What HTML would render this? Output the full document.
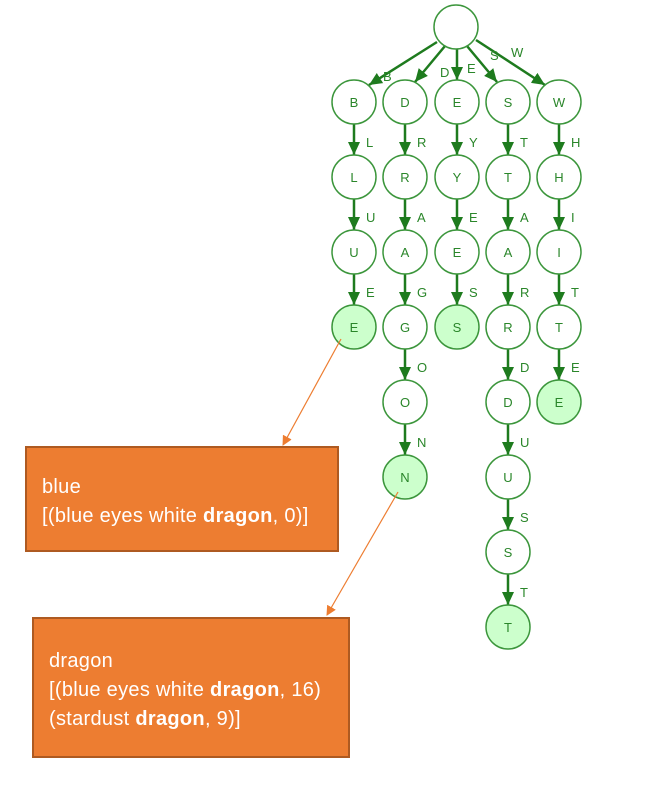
<!DOCTYPE html>
<html><head><style>
body{margin:0;background:#fff;width:658px;height:796px;overflow:hidden;position:relative;font-family:"Liberation Sans",sans-serif}
.box{position:absolute;background:#ED7D31;border:2px solid #AE5A21;color:#fff;font-size:20px;line-height:29px;box-sizing:border-box;white-space:nowrap;letter-spacing:0.3px}
svg{position:absolute;left:0;top:0}
</style></head><body>
<svg width="658" height="796" viewBox="0 0 658 796">
<defs>
<marker id="o" markerWidth="10" markerHeight="10" refX="9" refY="5" orient="auto" markerUnits="userSpaceOnUse"><path d="M0,0 L10,5 L0,10z" fill="#ED7D31"/></marker>
<marker id="g" markerWidth="14" markerHeight="14" refX="13" refY="7" orient="auto" markerUnits="userSpaceOnUse"><path d="M0,1 L13,7 L0,13z" fill="#1E7B1E"/></marker></defs>
<g stroke="#1E7B1E" stroke-width="2.5" marker-end="url(#g)" fill="none">
<line x1="437" y1="42" x2="369" y2="85"/>
<line x1="445" y1="46" x2="415" y2="82"/>
<line x1="457" y1="49" x2="457" y2="80"/>
<line x1="467" y1="46" x2="497" y2="82"/>
<line x1="476" y1="40" x2="545" y2="85"/>
<line x1="354" y1="124" x2="354" y2="155"/><line x1="354" y1="199" x2="354" y2="230"/><line x1="354" y1="274" x2="354" y2="305"/>
<line x1="405" y1="124" x2="405" y2="155"/><line x1="405" y1="199" x2="405" y2="230"/><line x1="405" y1="274" x2="405" y2="305"/><line x1="405" y1="349" x2="405" y2="380"/><line x1="405" y1="424" x2="405" y2="455"/>
<line x1="457" y1="124" x2="457" y2="155"/><line x1="457" y1="199" x2="457" y2="230"/><line x1="457" y1="274" x2="457" y2="305"/>
<line x1="508" y1="124" x2="508" y2="155"/><line x1="508" y1="199" x2="508" y2="230"/><line x1="508" y1="274" x2="508" y2="305"/><line x1="508" y1="349" x2="508" y2="380"/><line x1="508" y1="424" x2="508" y2="455"/><line x1="508" y1="499" x2="508" y2="530"/><line x1="508" y1="574" x2="508" y2="605"/>
<line x1="559" y1="124" x2="559" y2="155"/><line x1="559" y1="199" x2="559" y2="230"/><line x1="559" y1="274" x2="559" y2="305"/><line x1="559" y1="349" x2="559" y2="380"/>
</g>
<g stroke="#3C963C" stroke-width="1.5" fill="#fff">
<circle cx="456" cy="27" r="22"/>
<circle cx="354" cy="102" r="22"/><circle cx="354" cy="177" r="22"/><circle cx="354" cy="252" r="22"/><circle cx="354" cy="327" r="22" fill="#CCFFCC"/>
<circle cx="405" cy="102" r="22"/><circle cx="405" cy="177" r="22"/><circle cx="405" cy="252" r="22"/><circle cx="405" cy="327" r="22"/><circle cx="405" cy="402" r="22"/><circle cx="405" cy="477" r="22" fill="#CCFFCC"/>
<circle cx="457" cy="102" r="22"/><circle cx="457" cy="177" r="22"/><circle cx="457" cy="252" r="22"/><circle cx="457" cy="327" r="22" fill="#CCFFCC"/>
<circle cx="508" cy="102" r="22"/><circle cx="508" cy="177" r="22"/><circle cx="508" cy="252" r="22"/><circle cx="508" cy="327" r="22"/><circle cx="508" cy="402" r="22"/><circle cx="508" cy="477" r="22"/><circle cx="508" cy="552" r="22"/><circle cx="508" cy="627" r="22" fill="#CCFFCC"/>
<circle cx="559" cy="102" r="22"/><circle cx="559" cy="177" r="22"/><circle cx="559" cy="252" r="22"/><circle cx="559" cy="327" r="22"/><circle cx="559" cy="402" r="22" fill="#CCFFCC"/>
</g>
<g fill="#2A862A" font-family="Liberation Sans,sans-serif" font-size="13" text-anchor="middle">
<text x="354" y="107">B</text><text x="354" y="182">L</text><text x="354" y="257">U</text><text x="354" y="332">E</text>
<text x="405" y="107">D</text><text x="405" y="182">R</text><text x="405" y="257">A</text><text x="405" y="332">G</text><text x="405" y="407">O</text><text x="405" y="482">N</text>
<text x="457" y="107">E</text><text x="457" y="182">Y</text><text x="457" y="257">E</text><text x="457" y="332">S</text>
<text x="508" y="107">S</text><text x="508" y="182">T</text><text x="508" y="257">A</text><text x="508" y="332">R</text><text x="508" y="407">D</text><text x="508" y="482">U</text><text x="508" y="557">S</text><text x="508" y="632">T</text>
<text x="559" y="107">W</text><text x="559" y="182">H</text><text x="559" y="257">I</text><text x="559" y="332">T</text><text x="559" y="407">E</text>
</g>
<g fill="#2A862A" font-family="Liberation Sans,sans-serif" font-size="13" text-anchor="start">
<text x="383" y="81">B</text><text x="440" y="77">D</text><text x="467" y="73">E</text><text x="490" y="60">S</text><text x="511" y="57">W</text>
<text x="366" y="147">L</text><text x="366" y="222">U</text><text x="366" y="297">E</text>
<text x="417" y="147">R</text><text x="417" y="222">A</text><text x="417" y="297">G</text><text x="417" y="372">O</text><text x="417" y="447">N</text>
<text x="469" y="147">Y</text><text x="469" y="222">E</text><text x="469" y="297">S</text>
<text x="520" y="147">T</text><text x="520" y="222">A</text><text x="520" y="297">R</text><text x="520" y="372">D</text><text x="520" y="447">U</text><text x="520" y="522">S</text><text x="520" y="597">T</text>
<text x="571" y="147">H</text><text x="571" y="222">I</text><text x="571" y="297">T</text><text x="571" y="372">E</text>
</g>
<g stroke="#ED7D31" stroke-width="1.2" marker-end="url(#o)">
<line x1="341" y1="339" x2="283" y2="445"/>
<line x1="398" y1="492" x2="327" y2="615"/>
</g>
</svg>
<div class="box" style="left:25px;top:446px;width:314px;height:106px;padding:25px 0 0 15px">blue<br>[(blue eyes white <b>dragon</b>, 0)]</div>
<div class="box" style="left:32px;top:617px;width:318px;height:141px;padding:28px 0 0 15px">dragon<br>[(blue eyes white <b>dragon</b>, 16)<br>(stardust <b>dragon</b>, 9)]</div>
</body></html>
